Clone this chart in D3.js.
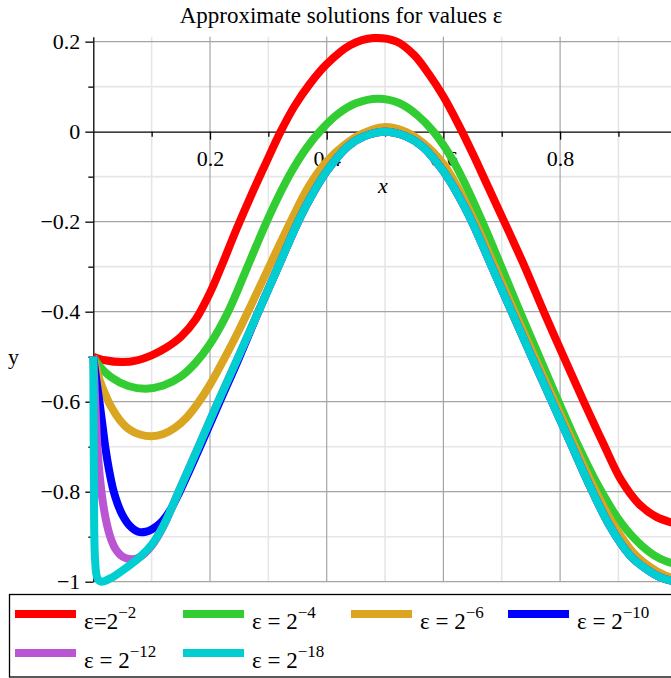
<!DOCTYPE html>
<html>
<head>
<meta charset="utf-8">
<script src="https://cdn.jsdelivr.net/npm/d3@7/dist/d3.min.js"></script>
<style>
  body { margin: 0; background: #fff; }
  text { font-family: "Liberation Serif", "Times New Roman", serif; fill: #000; }
</style>
</head>
<body>
<div id="root"></div>
<script>
// curves, [x, y]
const eps2 = [[0,-0.5],[0.02,-0.508],[0.05,-0.512],[0.075,-0.508],[0.1,-0.497],[0.125,-0.48],[0.15,-0.456],[0.175,-0.418],[0.2,-0.358],[0.22,-0.298],[0.245,-0.218],[0.27,-0.143],[0.295,-0.072],[0.321,0],[0.345,0.057],[0.371,0.106],[0.4,0.15],[0.44,0.192],[0.48,0.208],[0.52,0.2],[0.55,0.17],[0.575,0.128],[0.6,0.078],[0.625,0.018],[0.65,-0.048],[0.675,-0.118],[0.706,-0.205],[0.74,-0.302],[0.772,-0.4],[0.806,-0.5],[0.84,-0.598],[0.873,-0.69],[0.905,-0.775],[0.935,-0.827],[0.965,-0.856],[1,-0.872]];
const eps4 = [[0,-0.5],[0.01,-0.52],[0.03,-0.545],[0.06,-0.565],[0.09,-0.571],[0.12,-0.564],[0.15,-0.544],[0.175,-0.514],[0.2,-0.472],[0.23,-0.403],[0.262,-0.307],[0.293,-0.212],[0.315,-0.15],[0.34,-0.088],[0.365,-0.037],[0.392,0.006],[0.42,0.04],[0.45,0.063],[0.488,0.073],[0.525,0.063],[0.555,0.037],[0.583,0],[0.61,-0.05],[0.635,-0.11],[0.665,-0.195],[0.697,-0.293],[0.728,-0.39],[0.762,-0.493],[0.795,-0.593],[0.83,-0.695],[0.868,-0.793],[0.905,-0.87],[0.94,-0.92],[0.97,-0.948],[1,-0.962]];
const eps6 = [[0,-0.5],[0.005,-0.525],[0.012,-0.556],[0.02,-0.582],[0.03,-0.61],[0.045,-0.64],[0.06,-0.66],[0.08,-0.673],[0.1,-0.677],[0.12,-0.672],[0.14,-0.658],[0.16,-0.635],[0.18,-0.602],[0.2,-0.562],[0.225,-0.503],[0.25,-0.44],[0.275,-0.373],[0.305,-0.29],[0.338,-0.2],[0.37,-0.12],[0.4,-0.066],[0.43,-0.03],[0.46,-0.005],[0.497,0.01],[0.535,0],[0.565,-0.025],[0.6,-0.072],[0.627,-0.13],[0.653,-0.198],[0.687,-0.297],[0.721,-0.398],[0.756,-0.5],[0.79,-0.598],[0.822,-0.69],[0.855,-0.783],[0.89,-0.87],[0.925,-0.935],[0.955,-0.968],[0.98,-0.986],[1,-0.994]];
const eps10 = [[0,-0.5],[0.005,-0.55],[0.011,-0.605],[0.016,-0.655],[0.021,-0.705],[0.027,-0.752],[0.034,-0.795],[0.042,-0.828],[0.05,-0.852],[0.062,-0.875],[0.077,-0.889],[0.09,-0.889],[0.1,-0.884],[0.115,-0.87],[0.13,-0.845],[0.148,-0.8],[0.183,-0.7],[0.215,-0.605],[0.249,-0.505],[0.283,-0.4],[0.317,-0.3],[0.351,-0.2],[0.375,-0.14],[0.4,-0.088],[0.435,-0.034],[0.465,-0.01],[0.5,0],[0.535,-0.01],[0.565,-0.034],[0.6,-0.088],[0.625,-0.14],[0.649,-0.2],[0.683,-0.3],[0.717,-0.4],[0.752,-0.502],[0.786,-0.6],[0.818,-0.692],[0.852,-0.79],[0.886,-0.878],[0.92,-0.942],[0.95,-0.974],[0.975,-0.992],[1,-1]];
const eps12 = [[0,-0.5],[0.002,-0.56],[0.004,-0.62],[0.007,-0.7],[0.011,-0.765],[0.016,-0.82],[0.022,-0.865],[0.029,-0.9],[0.037,-0.925],[0.046,-0.94],[0.056,-0.948],[0.068,-0.95],[0.08,-0.945],[0.1,-0.92],[0.12,-0.877],[0.148,-0.795],[0.182,-0.695],[0.214,-0.6],[0.248,-0.502],[0.283,-0.4],[0.317,-0.3],[0.351,-0.2],[0.375,-0.14],[0.4,-0.088],[0.435,-0.034],[0.465,-0.01],[0.5,0],[0.535,-0.01],[0.565,-0.034],[0.6,-0.088],[0.625,-0.14],[0.649,-0.2],[0.683,-0.3],[0.717,-0.4],[0.752,-0.502],[0.786,-0.6],[0.818,-0.692],[0.852,-0.79],[0.886,-0.878],[0.92,-0.942],[0.95,-0.974],[0.975,-0.992],[1,-1]];
const eps18 = [[0,-0.5],[0.001,-0.76],[0.003,-0.95],[0.007,-0.992],[0.013,-1],[0.03,-0.992],[0.05,-0.975],[0.08,-0.945],[0.1,-0.918],[0.12,-0.876],[0.148,-0.795],[0.182,-0.695],[0.214,-0.6],[0.248,-0.502],[0.283,-0.4],[0.317,-0.3],[0.351,-0.2],[0.375,-0.14],[0.4,-0.088],[0.435,-0.034],[0.465,-0.01],[0.5,0],[0.535,-0.01],[0.565,-0.034],[0.6,-0.088],[0.625,-0.14],[0.649,-0.2],[0.683,-0.3],[0.717,-0.4],[0.752,-0.502],[0.786,-0.6],[0.818,-0.692],[0.852,-0.79],[0.886,-0.878],[0.92,-0.942],[0.95,-0.974],[0.975,-0.992],[1,-1]];

const curves = [eps2, eps4, eps6, eps10, eps12, eps18];
const colors = ["#ff0000", "#32cd32", "#daa520", "#0000ff", "#ba55d3", "#00ced1"];
const legendBase = ["ε=2", "ε = 2", "ε = 2", "ε = 2", "ε = 2", "ε = 2"];
const legendExp = ["−2", "−4", "−6", "−10", "−12", "−18"];

const xMajor = [0.2, 0.4, 0.6, 0.8];
const xMinor = [0.1, 0.3, 0.5, 0.7, 0.9];
const yMajor = [0.2, 0, -0.2, -0.4, -0.6, -0.8, -1];
const yMinor = [0.1, -0.1, -0.3, -0.5, -0.7, -0.9];

const width = 671;
const height = 678;

const x = d3.scaleLinear([0, 1], [93.3, 676.8]);
const y = d3.scaleLinear([-1, 0.211], [581.7, 36.7]);

const svg = d3.select("#root").append("svg")
  .attr("width", width)
  .attr("height", height);

// grid
const grid = svg.append("g");
grid.selectAll(".vminor").data(xMinor).join("line")
  .attr("x1", d => x(d)).attr("x2", d => x(d))
  .attr("y1", y.range()[1]).attr("y2", y.range()[0])
  .attr("stroke", "#e6e6e6").attr("stroke-width", 1.6);
grid.selectAll(".hminor").data(yMinor).join("line")
  .attr("x1", x(0)).attr("x2", x(1))
  .attr("y1", d => y(d)).attr("y2", d => y(d))
  .attr("stroke", "#e6e6e6").attr("stroke-width", 1.6);
grid.selectAll(".vmajor").data(xMajor).join("line")
  .attr("x1", d => x(d)).attr("x2", d => x(d))
  .attr("y1", y.range()[1]).attr("y2", y.range()[0])
  .attr("stroke", "#a5a5a5").attr("stroke-width", 1.2);
grid.selectAll(".hmajor").data(yMajor.filter(d => d !== 0)).join("line")
  .attr("x1", x(0)).attr("x2", x(1))
  .attr("y1", d => y(d)).attr("y2", d => y(d))
  .attr("stroke", "#a5a5a5").attr("stroke-width", 1.2);

// axes
const fmt = d3.format("~f");

svg.append("g")
  .attr("transform", `translate(${x(0)},0)`)
  .call(d3.axisLeft(y).tickValues(yMinor).tickSize(5).tickSizeOuter(0).tickFormat(""))
  .call(g => g.select(".domain").remove());

svg.append("g")
  .attr("transform", `translate(${x(0)},0)`)
  .call(d3.axisLeft(y).tickValues(yMajor).tickSize(8).tickPadding(5).tickSizeOuter(0).tickFormat(fmt));

svg.append("g")
  .attr("transform", `translate(0,${y(0)})`)
  .call(d3.axisBottom(x).tickValues(xMinor).tickSize(5).tickSizeOuter(0).tickFormat(""))
  .call(g => g.select(".domain").remove());

svg.append("g")
  .attr("transform", `translate(0,${y(0)})`)
  .call(d3.axisBottom(x).tickValues(xMajor).tickSize(8).tickPadding(11).tickSizeOuter(0).tickFormat(fmt));

svg.selectAll(".tick line, .domain")
  .attr("stroke", "#000").attr("stroke-width", 1.3);
svg.selectAll(".tick text")
  .attr("font-size", 22)
  .attr("fill", "#000");

// title and axis labels
svg.append("text")
  .attr("x", 341).attr("y", 23)
  .attr("text-anchor", "middle")
  .attr("font-size", 23)
  .text("Approximate solutions for values ε");

svg.append("text")
  .attr("x", 383).attr("y", 193)
  .attr("text-anchor", "middle")
  .attr("font-size", 22)
  .attr("font-style", "italic")
  .text("x");

svg.append("text")
  .attr("x", 8).attr("y", 364)
  .attr("font-size", 22)
  .text("y");

// curves
const line = d3.line()
  .x(d => x(d[0]))
  .y(d => y(d[1]))
  .curve(d3.curveCatmullRom.alpha(0.5));

svg.append("g")
  .selectAll("path")
  .data(curves)
  .join("path")
  .attr("d", line)
  .attr("fill", "none")
  .attr("stroke", (d, i) => colors[i])
  .attr("stroke-width", 8)
  .attr("stroke-linejoin", "round");

// legend
const legend = svg.append("g");
legend.append("rect")
  .attr("x", 9.5).attr("y", 594.5)
  .attr("width", 700).attr("height", 82.5)
  .attr("fill", "#fff")
  .attr("stroke", "#000").attr("stroke-width", 1.3);

const colX = [15, 183, 351, 508];
const rowY = [614, 653];

const item = legend.selectAll(".item")
  .data(colors)
  .join("g")
  .attr("transform", (d, i) => `translate(${colX[i % 4]},${rowY[Math.floor(i / 4)]})`);

item.append("line")
  .attr("x1", 0).attr("x2", 61)
  .attr("stroke", d => d)
  .attr("stroke-width", 8);

const label = item.append("text")
  .attr("x", 69).attr("y", 15)
  .attr("font-size", 23);
label.append("tspan")
  .attr("xml:space", "preserve")
  .text((d, i) => legendBase[i]);
label.append("tspan")
  .attr("dy", -11)
  .attr("font-size", 17)
  .text((d, i) => legendExp[i]);
</script>
</body>
</html>
